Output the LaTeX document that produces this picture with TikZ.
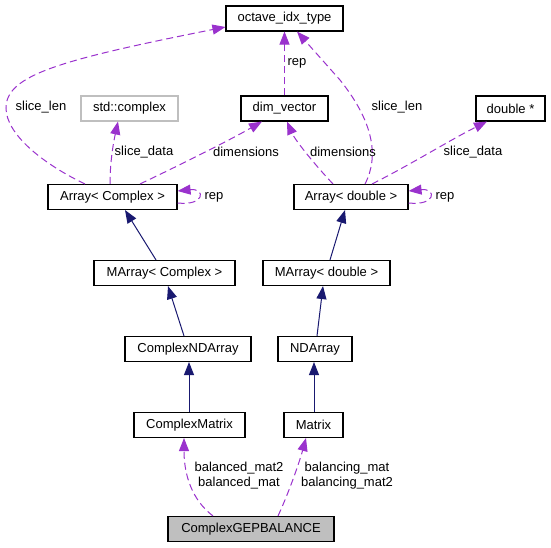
\documentclass[tikz,border=0pt]{standalone}
\usepackage{fontspec}
\setmainfont{Liberation Sans}
\usepackage{xcolor}
\usetikzlibrary{positioning,arrows.meta}
\definecolor{inhblue}{HTML}{191970}
\definecolor{usepurple}{HTML}{9A32CD}
\definecolor{boxgray}{HTML}{BFBFBF}

\begin{document}
\begin{tikzpicture}[
  x=1pt, y=-1pt,
  font=\fontsize{13}{15}\selectfont,
  cls/.style={draw, line width=1.1pt, minimum height=25pt, inner sep=0pt},
  inherit/.style={inhblue, line width=1pt, -{Triangle[length=13pt,width=10pt]}},
  uses/.style={usepurple, line width=1pt, dash pattern=on 7pt off 4pt,
    -{Triangle[length=13pt,width=10pt]}},
]
  \useasboundingbox (0,0) rectangle (551,548);

  % Top row
  \node[cls, minimum width=117pt] (octv) at (284.5,18.5) {octave\_idx\_type};
  \node[cls, draw=boxgray, minimum width=97pt] (stdc) at (129.5,108.5) {std::complex};
  \node[cls, minimum width=87pt] (dimv) at (284.5,108.5) {dim\_vector};
  \node[cls, minimum width=69pt] (dblp) at (510.5,108.5) {double *};

  % Array chains
  \node[cls, minimum width=129pt] (arrC) at (112.5,197) {Array< Complex >};
  \node[cls, minimum width=114pt] (arrD) at (351,197) {Array< double >};
  \node[cls, minimum width=141pt] (marrC) at (164.5,273) {MArray< Complex >};
  \node[cls, minimum width=127pt] (marrD) at (326.5,273) {MArray< double >};
  \node[cls, minimum width=126pt] (ndC) at (188,349) {ComplexNDArray};
  \node[cls, minimum width=74pt] (ndD) at (315,349) {NDArray};
  \node[cls, minimum width=111pt] (matC) at (189.5,425) {ComplexMatrix};
  \node[cls, minimum width=59pt] (matD) at (313.5,425) {Matrix};
  \node[cls, fill=boxgray, minimum width=166pt] (gep) at (251,529) {ComplexGEPBALANCE};

  % Inheritance
  \draw[inherit] ([xshift=-8.5pt]marrC.north) -- ([xshift=12.5pt]arrC.south);
  \draw[inherit] ([xshift=3.5pt]marrD.north) -- ([xshift=-6pt]arrD.south);
  \draw[inherit] ([xshift=-4pt]ndC.north) -- ([xshift=3.5pt]marrC.south);
  \draw[inherit] ([xshift=2pt]ndD.north) -- ([xshift=-3.5pt]marrD.south);
  \draw[inherit] ([xshift=-0.5pt]matC.north) -- ([xshift=1pt]ndC.south);
  \draw[inherit] ([xshift=0.5pt]matD.north) -- ([xshift=-1pt]ndD.south);

  % Members of Array< Complex >
  \draw[uses] ([xshift=-27.5pt]arrC.north) .. controls (45,165) and (6,135) .. (6,108)
    .. controls (6,75) and (60,60) .. ([yshift=-8.5pt]octv.west);
  \node (lenC) at (41,107) {slice\_len};
  \draw[uses] ([xshift=-2.5pt]arrC.north) .. controls (110,160) and (114,140) .. ([xshift=-11.5pt]stdc.south);
  \node (datC) at (144,152) {slice\_data};
  \draw[uses] ([xshift=27.5pt]arrC.north) .. controls (180,165) and (230,140) .. ([xshift=-22.5pt]dimv.south);
  \node (dimC) at (246,152) {dimensions};
  \draw[uses] ([yshift=-6pt]arrC.east) .. controls +(28,3) and +(28,-3) .. ([yshift=6pt]arrC.east);
  \node (repC) at (214,197) {rep};

  \draw[uses] (dimv) -- (octv);
  \node (repV) at (297,63) {rep};

  % Members of Array< double >
  \draw[uses] ([xshift=14pt]arrD.north) .. controls (380,155) and (372,120) .. (340,80)
    -- ([xshift=12.5pt]octv.south);
  \node (lenD) at (397,107) {slice\_len};
  \draw[uses] ([xshift=-18pt]arrD.north) .. controls (315,165) and (295,140) .. ([xshift=2.5pt]dimv.south);
  \node (dimD) at (343,152) {dimensions};
  \draw[uses] ([xshift=21pt]arrD.north) .. controls (410,165) and (450,140) .. ([xshift=-23.5pt]dblp.south);
  \node (datD) at (473,152) {slice\_data};
  \draw[uses] ([yshift=-6pt]arrD.east) .. controls +(28,3) and +(28,-3) .. ([yshift=6pt]arrD.east);
  \node (repD) at (445,197) {rep};

  % Members of ComplexGEPBALANCE
  \draw[uses] ([xshift=-38pt]gep.north) .. controls (192,500) and (184,475) .. ([xshift=-5.5pt]matC.south);
  \node[align=center] (balC) at (239,475.5) {balanced\_mat2\\balanced\_mat};
  \draw[uses] ([xshift=27pt]gep.north) .. controls (290,490) and (300,460) .. ([xshift=-7.5pt]matD.south);
  \node[align=center] (balD) at (347,475.5) {balancing\_mat\\balancing\_mat2};
\end{tikzpicture}
\end{document}
